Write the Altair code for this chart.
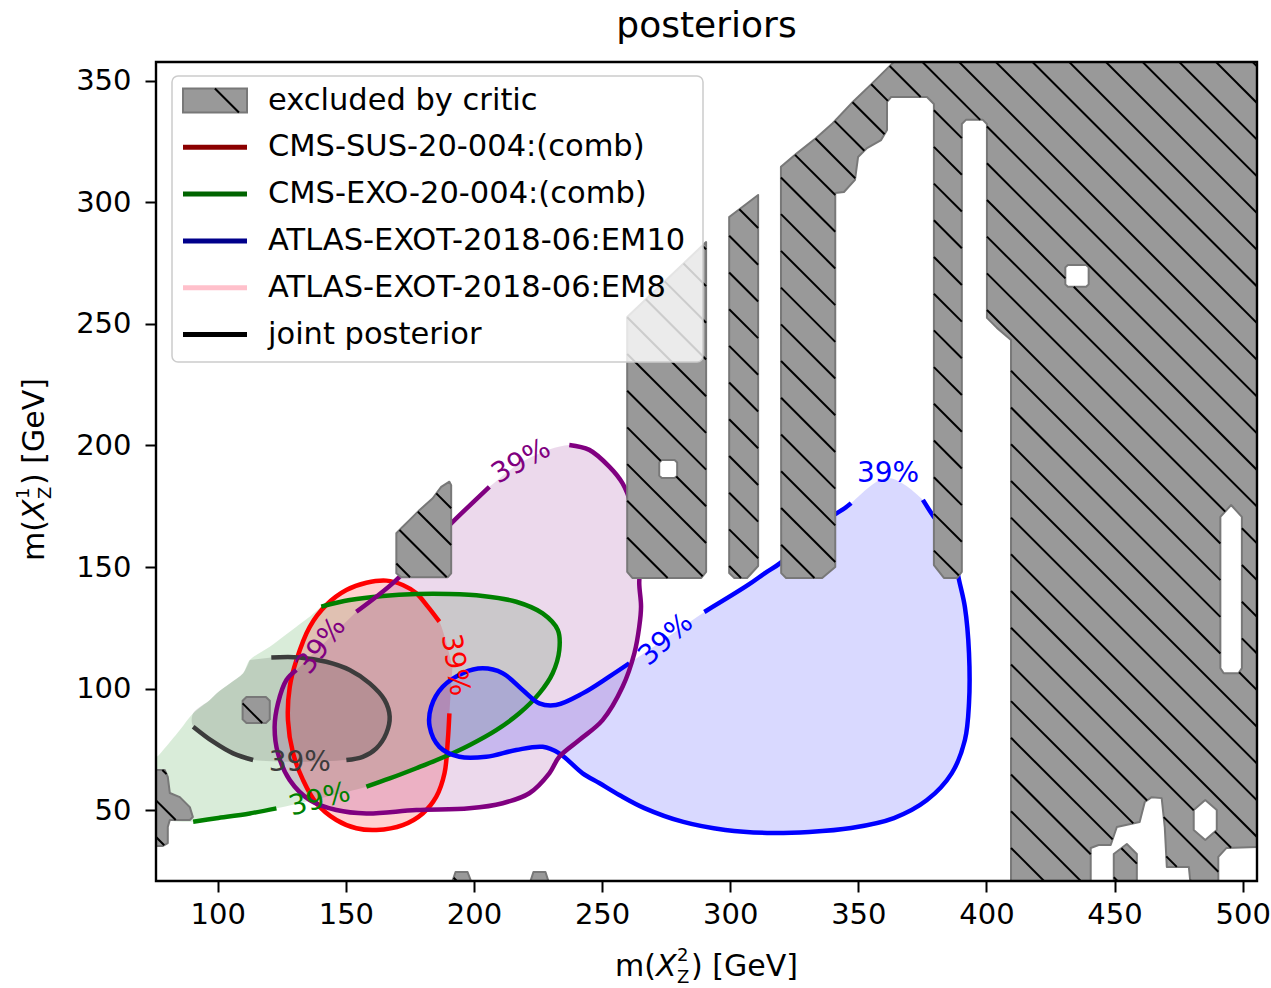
import math

import altair as alt
import pandas as pd

# ---------------------------------------------------------------- axes
X_DOMAIN = [75.9, 505.6]
Y_DOMAIN = [20.8, 357.8]
X_TICKS = [100, 150, 200, 250, 300, 350, 400, 450, 500]
Y_TICKS = [50, 100, 150, 200, 250, 300, 350]
W, H = 1101, 819
FONT = "DejaVu Sans"

# ------------------------------------------------ 39% posterior contours
# points are (m(X_Z^2), m(X_Z^1)) in GeV, listed along each contour

# CMS-SUS-20-004 (red)
sus_arc = [(190.4, 89.8), (189.8, 78.8), (188.5, 65.1), (185.3, 55.5), (180.0, 48.6),
           (172.2, 43.8), (161.9, 41.8), (154.1, 42.5), (146.3, 45.9), (138.5, 52.8),
           (133.3, 62.3), (129.4, 73.3), (127.4, 87.0), (128.1, 100.7), (130.7, 111.7),
           (135.9, 125.4), (142.4, 134.4), (150.2, 140.5), (158.0, 143.5), (165.8, 144.4),
           (172.2, 142.6), (177.5, 139.2), (182.0, 133.7), (186.5, 127.5)]
sus_gap = [(191.6, 108.8)]

# CMS-EXO-20-004 (green)
exo_upper = [(140.4, 133.7), (151.5, 136.4), (164.4, 138.1), (177.5, 138.9), (190.4, 138.9),
             (203.4, 138.1), (216.5, 135.7), (226.8, 130.9), (232.7, 124.1), (233.3, 115.8),
             (230.7, 106.3), (225.5, 98.0), (217.7, 89.8), (208.7, 82.9), (198.2, 76.7),
             (188.5, 71.9), (177.5, 67.2), (167.1, 63.0), (158.0, 59.6)]
exo_lower = [(122.9, 50.7), (112.5, 48.6), (99.5, 46.6), (90.4, 45.2)]
exo_edge = [(80.0, 45.6), (73.0, 46.0), (73.0, 71.9), (76.1, 71.9), (78.7, 74.7),
            (85.2, 82.9), (90.4, 89.8), (96.9, 95.3), (99.5, 98.0), (104.7, 102.1),
            (109.9, 106.3), (112.5, 111.7), (120.3, 117.2), (125.5, 121.3),
            (130.7, 125.4), (135.9, 129.5)]

# ATLAS-EXOT-2018-06:EM8 (purple)
em8_left = [(154.1, 131.6), (169.0, 144.0), (180.7, 157.0), (192.4, 169.3), (206.0, 183.0)]
em8_gap = [(221.0, 194.5)]
em8_main = [(237.2, 200.2), (245.0, 198.2), (252.8, 191.3), (258.0, 184.4), (261.4, 175.5),
            (263.7, 163.2), (264.9, 152.9), (264.5, 143.3), (265.2, 133.7), (264.5, 125.4),
            (262.6, 114.5), (258.0, 100.7), (250.2, 87.0), (241.1, 78.8), (233.3, 71.9),
            (229.4, 65.1), (221.6, 56.9), (211.2, 52.8), (198.2, 50.7), (177.5, 50.0),
            (158.0, 48.6), (146.3, 50.0), (135.9, 54.1), (128.1, 62.3), (123.5, 73.3),
            (122.2, 84.3), (123.5, 93.9), (126.8, 103.5), (130.7, 107.6)]

# ATLAS-EXOT-2018-06:EM10 (blue)
em10_main = [(260.6, 110.4), (252.8, 104.9), (242.4, 98.0), (232.0, 93.2), (225.5, 93.9),
             (219.0, 99.4), (211.2, 106.3), (203.4, 108.3), (195.6, 106.3), (187.8, 100.7),
             (183.3, 92.5), (182.7, 84.3), (186.5, 76.0), (194.3, 71.9), (204.8, 71.9),
             (216.5, 74.7), (226.8, 76.0), (233.3, 73.3), (242.4, 65.1), (248.9, 61.1),
             (256.7, 56.2), (266.5, 50.8), (281.7, 45.1), (298.1, 41.8), (314.4, 40.6),
             (330.8, 41.0), (347.2, 42.6), (363.9, 46.7), (376.8, 54.1), (386.5, 65.2),
             (391.6, 78.8), (393.2, 94.0), (393.2, 114.6), (391.6, 133.5), (389.3, 144.7),
             (387.3, 154.9), (383.4, 165.2), (379.5, 170.6), (375.2, 177.6)]
em10_peak = [(361.2, 186.6)]
em10_upper = [(347.2, 176.3), (344.8, 174.3), (334.7, 167.3), (326.9, 159.1), (319.5, 151.6),
              (313.6, 147.5), (307.0, 142.6), (289.9, 131.5)]

# joint posterior (dark grey)
joint_upper = [(120.9, 112.8), (132.0, 112.8), (142.4, 111.0), (151.5, 107.6), (159.3, 102.1),
               (165.1, 95.3), (167.1, 88.4), (165.8, 81.6), (161.9, 75.4), (156.6, 71.9),
               (150.2, 70.6)]
joint_lower = [(113.8, 70.6), (106.0, 73.3), (98.2, 78.1), (90.4, 84.3)]
joint_edge = [(90.4, 89.8), (96.9, 95.3), (99.5, 98.0), (104.7, 102.1), (109.9, 106.3),
              (112.5, 111.7)]

# inline contour labels
label_text = "39%"
label_x = [192.4, 139.8, 132.0, 218.5, 140.5, 275.0, 361.6]
label_y = [109.7, 54.1, 69.4, 193.2, 117.5, 120.0, 188.3]
label_angle = [81, 345, 0, 331, 307, 318, 0]
label_color = ["#ff0000", "#008000", "#3c3c3c", "#800080", "#800080", "#0000ff", "#0000ff"]

# ------------------------------------------------ regions excluded by the critic
main_region = [(319.9, 147.5), (321.8, 145.5), (335.9, 145.5), (341.0, 150.0), (341.0, 303.9),
               (344.4, 304.3), (348.7, 309.3), (349.9, 318.7), (353.4, 322.4), (358.9, 325.7),
               (361.2, 329.8), (361.2, 341.4), (362.8, 343.4), (376.8, 343.4), (379.5, 340.5),
               (379.5, 150.8), (383.4, 145.5), (388.5, 145.5), (390.4, 148.0), (390.4, 332.3),
               (392.0, 334.0), (398.6, 334.0), (400.2, 332.3), (400.2, 252.5), (404.1, 248.4),
               (409.6, 243.4), (409.6, 17.0), (515.0, 17.0), (515.0, 362.0), (368.0, 362.0),
               (362.0, 355.9), (354.8, 348.4), (347.4, 340.9), (340.0, 332.6), (333.4, 326.4),
               (326.0, 320.2), (319.8, 314.7)]
col_a = [(259.8, 252.9), (290.6, 283.7), (290.6, 148.0), (288.7, 145.5), (261.8, 145.5),
         (259.8, 148.0)]
col_b = [(299.6, 294.0), (310.9, 303.1), (310.9, 150.4), (306.6, 145.5), (301.6, 145.5),
         (299.6, 147.5)]
wedge = [(169.7, 163.9), (172.2, 166.6), (175.5, 170.0), (178.8, 173.5), (183.9, 178.3),
         (187.2, 183.0), (190.4, 185.1), (191.1, 183.7), (191.1, 147.4), (189.8, 145.8),
         (171.6, 145.8), (169.7, 147.4)]
blob = [(111.2, 96.5), (118.8, 96.5), (120.3, 95.0), (120.3, 87.3), (118.8, 85.8),
        (111.2, 85.8), (109.7, 87.3), (109.7, 95.0)]
edge_piece = [(73.5, 66.5), (79.3, 66.5), (80.5, 63.6), (81.3, 57.0), (85.2, 55.3),
              (89.1, 51.2), (90.3, 47.1), (89.1, 45.9), (81.3, 45.9), (80.5, 43.0),
              (80.5, 36.4), (78.6, 35.2), (73.5, 35.2)]
bump_1 = [(190.4, 17.0), (192.8, 24.5), (197.5, 24.5), (200.2, 17.0)]
bump_2 = [(220.9, 17.0), (223.2, 24.5), (227.9, 24.5), (230.2, 17.0)]

# allowed islands inside the excluded regions
hole_a = [(273.3, 194.0), (278.3, 194.0), (279.3, 193.0), (279.3, 187.6), (278.3, 186.6),
          (273.3, 186.6), (272.3, 187.6), (272.3, 193.0)]
hole_square = [(431.8, 274.3), (438.9, 274.3), (439.9, 273.3), (439.9, 266.3), (438.9, 265.3),
               (431.8, 265.3), (430.8, 266.3), (430.8, 273.3)]
hole_strip = [(495.5, 175.5), (499.7, 170.6), (499.7, 108.4), (498.4, 106.3), (492.6, 106.3),
              (491.3, 108.4), (491.3, 170.6)]
hole_oval = [(485.4, 54.1), (489.9, 50.0), (489.9, 41.8), (485.4, 37.7), (480.9, 41.8),
             (480.9, 50.0)]
hole_blob = [(440.7, 15.0), (440.7, 34.4), (443.8, 35.6), (448.5, 35.6), (450.9, 43.0),
             (459.8, 45.1), (461.8, 53.3), (464.5, 55.3), (468.4, 54.9), (469.6, 43.0),
             (470.4, 26.6), (479.0, 26.6), (480.1, 15.0), (458.7, 15.0), (458.7, 31.9),
             (454.8, 36.0), (449.7, 31.9), (449.7, 15.0)]
hole_corner = [(490.5, 15.0), (490.5, 30.7), (493.7, 34.4), (520.0, 35.2), (520.0, 15.0)]

# ------------------------------------------------ legend entries
legend_labels = ["excluded by critic", "CMS-SUS-20-004:(comb)", "CMS-EXO-20-004:(comb)",
                 "ATLAS-EXOT-2018-06:EM10", "ATLAS-EXOT-2018-06:EM8", "joint posterior"]
legend_colors = ["#999999", "#8b0000", "#006400", "#00008b", "#ffc0cb", "#000000"]

# ================================================================ drawing
GREY_FILL, GREY_EDGE = "#999999", "#787878"
HATCH_STEP, HATCH_PHASE = 36.7, -656.3   # pixel spacing / offset of the "\\" hatch

SX = W / (X_DOMAIN[1] - X_DOMAIN[0])
SY = H / (Y_DOMAIN[1] - Y_DOMAIN[0])

xs = alt.Scale(domain=X_DOMAIN, nice=False, zero=False)
ys = alt.Scale(domain=Y_DOMAIN, nice=False, zero=False)
x_axis = alt.Axis(values=X_TICKS, title=None, grid=False, domain=False, tickSize=11,
                  tickWidth=2, tickColor="black", labelFontSize=29, labelFont=FONT,
                  labelColor="black", labelPadding=8, format="d", labelFlush=False)
y_axis = alt.Axis(values=Y_TICKS, title=None, grid=False, domain=False, tickSize=11,
                  tickWidth=2, tickColor="black", labelFontSize=29, labelFont=FONT,
                  labelColor="black", labelPadding=14, format="d", labelFlush=False)


def X(field="x"):
    return alt.X(f"{field}:Q", scale=xs, axis=x_axis)


def Y(field="y"):
    return alt.Y(f"{field}:Q", scale=ys, axis=y_axis)


def path_frame(pieces):
    rows, i = [], 0
    for pid, (pts, stroked) in enumerate(pieces):
        for x, y in pts:
            rows.append({"x": x, "y": y, "i": i, "piece": pid, "stroked": stroked})
            i += 1
    return pd.DataFrame(rows)


def poly_frame(polys):
    rows = []
    for sid, pts in enumerate(polys):
        for j, (x, y) in enumerate(pts):
            rows.append({"x": x, "y": y, "i": j, "shape": sid})
    return pd.DataFrame(rows)


def to_px(x, y):
    return (x - X_DOMAIN[0]) * SX, (Y_DOMAIN[1] - y) * SY


def hatch_segments(rings):
    """Diagonal hatch lines clipped to a set of rings (even-odd rule)."""
    edges = []
    for ring in rings:
        pts = [to_px(x, y) for x, y in ring]
        for k in range(len(pts)):
            edges.append((pts[k], pts[(k + 1) % len(pts)]))
    cs = [py - px for e in edges for px, py in e]
    k0 = math.floor((min(cs) - HATCH_PHASE) / HATCH_STEP)
    k1 = math.ceil((max(cs) - HATCH_PHASE) / HATCH_STEP)
    segs = []
    for k in range(k0, k1 + 1):
        c = HATCH_PHASE + k * HATCH_STEP
        ts = []
        for (x1, y1), (x2, y2) in edges:
            f1, f2 = y1 - x1 - c, y2 - x2 - c
            if (f1 > 0) != (f2 > 0):
                ts.append(x1 + (x2 - x1) * f1 / (f1 - f2))
        ts.sort()
        for a, b in zip(ts[0::2], ts[1::2]):
            segs.append({
                "x": X_DOMAIN[0] + a / SX, "y": Y_DOMAIN[1] - (a + c) / SY,
                "x2": X_DOMAIN[0] + b / SX, "y2": Y_DOMAIN[1] - (b + c) / SY,
            })
    return segs


contours = [
    # name, line colour, fill colour, fill alpha, pieces
    ("exo", "#008000", "#008000", 0.15,
     [(exo_upper, True), (exo_lower, True), (exo_edge, False)]),
    ("sus", "#ff0000", "#ff0000", 0.18, [(sus_arc, True), (sus_gap, False)]),
    ("em8", "#800080", "#800080", 0.15,
     [(em8_left, True), (em8_gap, False), (em8_main, True)]),
    ("em10", "#0000ff", "#0000ff", 0.15,
     [(em10_main, True), (em10_peak, False), (em10_upper, True)]),
    ("joint", "#3c3c3c", "#000000", 0.12,
     [(joint_upper, True), (joint_lower, True), (joint_edge, False)]),
]
line_order = ["sus", "exo", "em10", "em8", "joint"]

layers = []

# filled credible regions
for name, lc, fc, alpha, pieces in contours:
    df = path_frame(pieces)
    layers.append(
        alt.Chart(df).mark_line(interpolate="catmull-rom", fill=fc, fillOpacity=alpha,
                                strokeOpacity=0, strokeWidth=0, clip=True)
        .encode(x=X(), y=Y(), order="i:Q")
    )

# contour lines
by_name = {c[0]: c for c in contours}
for name in line_order:
    _, lc, fc, alpha, pieces = by_name[name]
    df = path_frame(pieces)
    df = df[df["stroked"]]
    layers.append(
        alt.Chart(df).mark_line(interpolate="catmull-rom", stroke=lc, strokeWidth=4.5,
                                strokeCap="butt", clip=True)
        .encode(x=X(), y=Y(), order="i:Q", detail="piece:N")
    )

# contour labels
labels_df = pd.DataFrame({"x": label_x, "y": label_y, "a": label_angle,
                          "c": label_color, "t": [label_text] * len(label_x)})
layers.append(
    alt.Chart(labels_df).mark_text(font=FONT, fontSize=28, align="center", baseline="middle")
    .encode(x=X(), y=Y(), text="t:N", angle=alt.Angle("a:Q", scale=None),
            color=alt.Color("c:N", scale=None))
)

# excluded regions: grey fill, islands, hatch
excluded = [main_region, col_a, col_b, wedge, blob, edge_piece, bump_1, bump_2]
holes = [hole_a, hole_square, hole_strip, hole_oval, hole_blob, hole_corner]
layers.append(
    alt.Chart(poly_frame(excluded)).mark_line(interpolate="linear-closed", fill=GREY_FILL,
                                              stroke=GREY_EDGE, strokeWidth=2,
                                              strokeJoin="round", clip=True)
    .encode(x=X(), y=Y(), order="i:Q", detail="shape:N")
)
layers.append(
    alt.Chart(poly_frame(holes)).mark_line(interpolate="linear-closed", fill="white",
                                           stroke=GREY_EDGE, strokeWidth=2,
                                           strokeJoin="round", clip=True)
    .encode(x=X(), y=Y(), order="i:Q", detail="shape:N")
)
hatch_groups = [
    [main_region, hole_square, hole_strip, hole_oval, hole_blob, hole_corner],
    [col_a, hole_a], [col_b], [wedge], [blob], [edge_piece], [bump_1], [bump_2],
]
hatch_rows = [s for g in hatch_groups for s in hatch_segments(g)]
layers.append(
    alt.Chart(pd.DataFrame(hatch_rows)).mark_rule(color="black", strokeWidth=2, clip=True)
    .encode(x=X(), y=Y(), x2="x2:Q", y2="y2:Q")
)

one = pd.DataFrame({"k": [0]})


def text_at(text, x, y, size=30, angle=0, style="normal", align="left",
            baseline="middle", color="black"):
    return alt.Chart(one).mark_text(text=text, font=FONT, fontSize=size, angle=angle,
                                    fontStyle=style, align=align, baseline=baseline,
                                    color=color).encode(x=alt.value(x), y=alt.value(y))


# legend
LEG_X0, LEG_X1, LEG_Y0, LEG_Y1 = 16, 547, 14, 300
ROW0, ROW_STEP = 38.5, 46.8
H_X0, H_X1, TXT_X = 27, 91, 112
layers.append(
    alt.Chart(one).mark_rect(fill="white", fillOpacity=0.8, stroke="#cccccc",
                             strokeWidth=1.5, cornerRadius=6)
    .encode(x=alt.value(LEG_X0), x2=alt.value(LEG_X1), y=alt.value(LEG_Y0),
            y2=alt.value(LEG_Y1))
)
for r, (lab, col) in enumerate(zip(legend_labels, legend_colors)):
    ry = ROW0 + r * ROW_STEP
    if r == 0:
        layers.append(
            alt.Chart(one).mark_rect(fill=GREY_FILL, stroke=GREY_EDGE, strokeWidth=2)
            .encode(x=alt.value(H_X0), x2=alt.value(H_X1), y=alt.value(ry - 12),
                    y2=alt.value(ry + 12))
        )
        # one hatch stroke through the patch, on the same diagonal grid
        c = HATCH_PHASE + 17 * HATCH_STEP
        layers.append(
            alt.Chart(one).mark_rule(color="black", strokeWidth=2)
            .encode(x=alt.value(ry - 12 - c), y=alt.value(ry - 12),
                    x2=alt.value(min(H_X1, ry + 12 - c)),
                    y2=alt.value(min(H_X1, ry + 12 - c) + c))
        )
    else:
        layers.append(
            alt.Chart(one).mark_rule(color=col, strokeWidth=5)
            .encode(x=alt.value(H_X0), x2=alt.value(H_X1), y=alt.value(ry))
        )
    layers.append(text_at(lab, TXT_X, ry, size=30.5))

# frame
layers.append(
    alt.Chart(one).mark_rect(fill="transparent", stroke="black", strokeWidth=2.4)
    .encode(x=alt.value(0), x2=alt.value(W), y=alt.value(0), y2=alt.value(H))
)

# title and axis titles
layers.append(text_at("posteriors", W / 2, -25, size=36, align="center",
                      baseline="alphabetic"))
# x title: m(X^2_Z) [GeV]
xt0, xty = 459, 905
layers += [
    text_at("m(", xt0, xty),
    text_at("X", xt0 + 41, xty, style="italic"),
    text_at("2", xt0 + 62, xty - 11, size=18),
    text_at("Z", xt0 + 62, xty + 11, size=18),
    text_at(") [GeV]", xt0 + 76, xty),
]
# y title: m(X^1_Z) [GeV], reading upwards
ytx, yt0 = -121, 499
layers += [
    text_at("m(", ytx, yt0, angle=270),
    text_at("X", ytx, yt0 - 41, angle=270, style="italic"),
    text_at("1", ytx - 11, yt0 - 62, size=18, angle=270),
    text_at("Z", ytx + 11, yt0 - 62, size=18, angle=270),
    text_at(") [GeV]", ytx, yt0 - 76, angle=270),
]

chart = (
    alt.layer(*layers)
    .properties(width=W, height=H,
                autosize=alt.AutoSizeParams(type="none"),
                padding={"left": 156, "top": 62, "right": 14, "bottom": 107})
    .configure_view(strokeWidth=0)
)

chart.save("out.html", embed_options={"renderer": "svg", "actions": False})
